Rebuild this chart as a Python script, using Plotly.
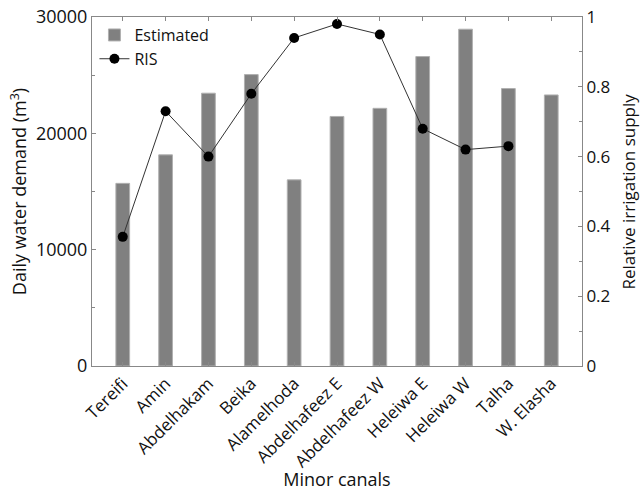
import plotly.graph_objects as go

canals = ["Tereifi", "Amin", "Abdelhakam", "Beika", "Alamelhoda", "Abdelhafeez E",
          "Abdelhafeez W", "Heleiwa E", "Heleiwa W", "Talha", "W. Elasha"]
estimated = [15700, 18150, 23450, 25050, 16000, 21450, 22150, 26600, 28950, 23850, 23300]
ris = [0.37, 0.73, 0.60, 0.78, 0.94, 0.98, 0.95, 0.68, 0.62, 0.63, None]

FONT = "Open Sans"
fig = go.Figure()
fig.add_trace(go.Bar(x=canals, y=estimated, name="Estimated",
                     marker=dict(color="#808080", line=dict(color="#b0b0b0", width=1)),
                     yaxis="y"))
fig.add_trace(go.Scatter(x=canals, y=ris, name="RIS", mode="lines+markers",
                         line=dict(color="#333333", width=1),
                         marker=dict(color="black", size=10),
                         yaxis="y2"))

fig.update_layout(
    width=640, height=491,
    margin=dict(l=92, r=58, t=17, b=125),
    paper_bgcolor="white", plot_bgcolor="white",
    font=dict(family=FONT, size=17, color="#111111"),
    bargap=0.68,
    showlegend=True,
    legend=dict(x=0.005, y=0.997, xanchor="left", yanchor="top",
                bgcolor="rgba(0,0,0,0)", font=dict(size=16), tracegroupgap=0),
    xaxis=dict(showline=True, linecolor="#888888", linewidth=1, mirror="ticks",
               ticks="inside", ticklen=4, tickcolor="#888888", tickangle=-45,
               tickfont=dict(size=17), showgrid=False, automargin=False,
               title=dict(text="Minor canals", font=dict(size=18), standoff=6)),
    yaxis=dict(range=[0, 30000], dtick=10000, tickformat="d", showline=True, linecolor="#888888",
               ticks="inside", ticklen=4, tickcolor="#888888", showgrid=False,
               zeroline=False, tickfont=dict(size=18), automargin=False,
               minor=dict(ticks="inside", dtick=5000, ticklen=3, tickcolor="#888888"),
               title=dict(text="Daily water demand (m<sup>3</sup>)", font=dict(size=18), standoff=4)),
    yaxis2=dict(range=[0, 1], dtick=0.2, overlaying="y", side="right", showline=True,
                linecolor="#888888", ticks="inside", ticklen=4, tickcolor="#888888",
                showgrid=False, zeroline=False, tickfont=dict(size=17), automargin=False,
                minor=dict(ticks="inside", dtick=0.1, ticklen=3, tickcolor="#888888")),
    annotations=[dict(text="Relative irrigation supply", xref="paper", yref="paper",
                      x=1 + (628 - 582) / 490, y=0.5, xanchor="center", yanchor="middle",
                      textangle=-90, showarrow=False, font=dict(size=17))],
)

fig.write_html("out.html", config={"displayModeBar": False},
               post_script="document.body.style.margin='0';document.body.style.overflow='hidden';")
